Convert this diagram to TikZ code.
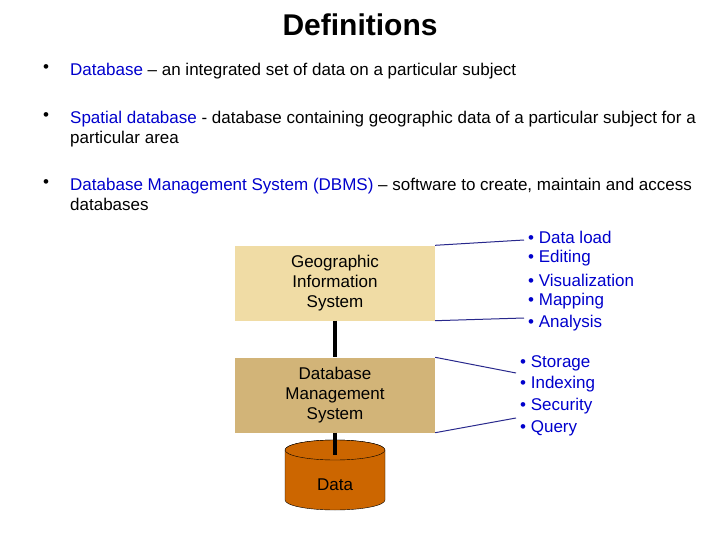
\documentclass[tikz,border=0pt]{standalone}
\usepackage{fontspec}
\setmainfont{Liberation Sans}
\usetikzlibrary{positioning}
\definecolor{bluetxt}{RGB}{0,0,204}
\definecolor{gisfill}{RGB}{240,220,165}
\definecolor{dbmsfill}{RGB}{210,180,120}
\definecolor{datafill}{RGB}{204,102,0}
\definecolor{leadline}{RGB}{40,40,140}
\tikzset{
  sysbox/.style={rectangle, minimum width=200pt, minimum height=75pt, align=center, font=\fontsize{17}{20}\selectfont, inner sep=0pt},
  itemtext/.style={anchor=west, text=bluetxt, font=\fontsize{17}{20}\selectfont, inner sep=0pt},
  bodytext/.style={anchor=north west, align=flush left, text width=630pt, font=\fontsize{17}{20}\selectfont, inner sep=0pt},
  dot/.style={anchor=north west, font=\fontsize{17}{20}\selectfont, inner sep=0pt},
  lead/.style={leadline, line width=1pt}
}
\begin{document}
\begin{tikzpicture}[x=1pt, y=-1pt]
\useasboundingbox (0,0) rectangle (720,540);
\node[font=\fontsize{30}{34}\selectfont\bfseries] (title) at (360,25) {Definitions};

\node[dot] (b1) at (43,64) {\textbullet};
\node[bodytext] (t1) at (70,63) {\textcolor{bluetxt}{Database} -- an integrated set of data on a particular subject};
\node[dot] (b2) at (43,112) {\textbullet};
\node[bodytext] (t2) at (70,111) {\textcolor{bluetxt}{Spatial database} - database containing geographic data of a particular subject for a particular area};
\node[dot] (b3) at (43,179) {\textbullet};
\node[bodytext] (t3) at (70,178) {\textcolor{bluetxt}{Database Management System (DBMS)} -- software to create, maintain and access databases};

\node[sysbox, fill=gisfill] (gis) at (335,283) {Geographic\\Information\\System};
\node[sysbox, fill=dbmsfill] (dbms) at (335,395) {Database\\Management\\System};

% data cylinder
\filldraw[fill=datafill, draw=black] (285,450) -- (285,500) arc[start angle=180, end angle=0, x radius=50, y radius=10] -- (385,450) arc[start angle=0, end angle=-180, x radius=50, y radius=10] -- cycle;
\draw[fill=datafill] (335,450) ellipse[x radius=50, y radius=10];
\node[font=\fontsize{17}{20}\selectfont] (data) at (335,485) {Data};
\coordinate (datatop) at (335,455);

\draw[line width=4pt] (gis.south) -- (dbms.north);
\draw[line width=4pt] (dbms.south) -- (datatop);

\node[itemtext] (i1) at (528,237) {\textbullet{} Data load};
\node[itemtext] (i2) at (528,258) {\textbullet{} Editing};
\node[itemtext] (i3) at (528,280) {\textbullet{} Visualization};
\node[itemtext] (i4) at (528,301) {\textbullet{} Mapping};
\node[itemtext] (i5) at (528,323) {\textbullet{} Analysis};
\node[itemtext] (j1) at (520,363) {\textbullet{} Storage};
\node[itemtext] (j2) at (520,384) {\textbullet{} Indexing};
\node[itemtext] (j3) at (520,406) {\textbullet{} Security};
\node[itemtext] (j4) at (520,428) {\textbullet{} Query};

\draw[lead] (gis.north east) -- ([xshift=-4pt,yshift=-3pt]i1.west);
\draw[lead] (gis.south east) -- ([xshift=-4pt,yshift=5pt]i5.west);
\draw[lead] (dbms.north east) -- ([xshift=-4pt,yshift=-10pt]j1.west);
\draw[lead] (dbms.south east) -- ([xshift=-4pt,yshift=10pt]j4.west);
\end{tikzpicture}
\end{document}
